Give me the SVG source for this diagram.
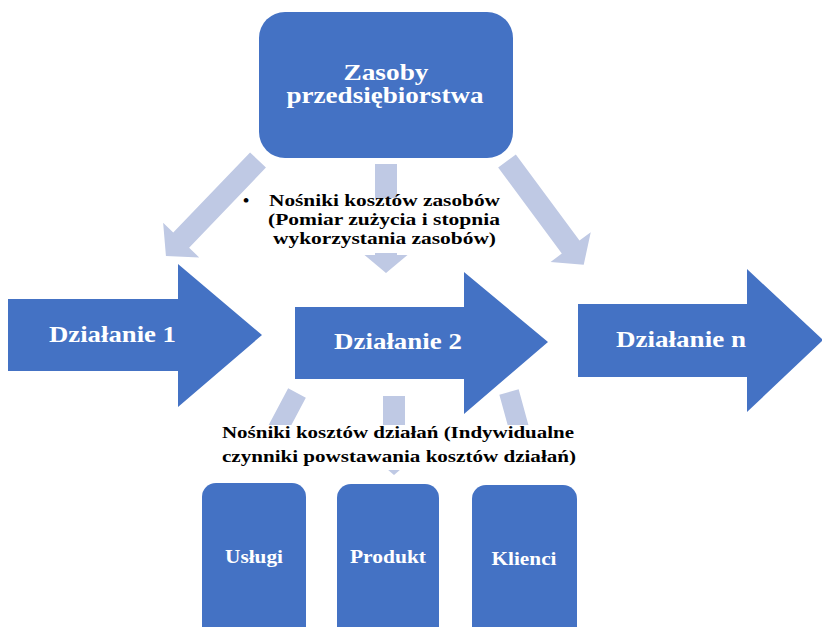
<svg xmlns="http://www.w3.org/2000/svg" width="822" height="627" viewBox="0 0 822 627">
<style>
.dark{fill:#4472C4}
.light{fill:#BFC9E4}
.wt{fill:#FFFFFF;font-family:"Liberation Serif","Times New Roman",serif;font-weight:bold}
.bt{fill:#000000;font-family:"Liberation Serif","Times New Roman",serif;font-weight:bold;font-size:17.5px}
</style>
<rect width="822" height="627" fill="#FFFFFF"/>
<g id="connectors">
  <path class="light" transform="translate(258,160) rotate(133.8)" d="M0,-11 L111,-11 L111,-25 L133,0 L111,25 L111,11 L0,11 Z"/>
  <path class="light" transform="translate(386,164) rotate(90)" d="M0,-11 L91,-11 L91,-21.5 L109,0 L91,21.5 L91,11 L0,11 Z"/>
  <path class="light" transform="translate(507,161) rotate(53.5)" d="M0,-11 L107,-11 L107,-25 L129,0 L107,25 L107,11 L0,11 Z"/>
  <path class="light" transform="translate(297,393) rotate(117.9)" d="M0,-10 L62,-10 L62,-22 L82,0 L62,22 L62,10 L0,10 Z"/>
  <path class="light" transform="translate(394,396) rotate(90)" d="M0,-11 L61,-11 L61,-21 L79,0 L61,21 L61,11 L0,11 Z"/>
  <path class="light" transform="translate(509,392) rotate(74.7)" d="M0,-10 L58,-10 L58,-22 L77,0 L58,22 L58,10 L0,10 Z"/>
</g>
<g id="label-zasoby">
  <rect x="240" y="198" width="270" height="55" fill="#FFFFFF"/>
  <text class="bt" x="243" y="206">•</text>
  <text class="bt" x="269" y="206" textLength="231" lengthAdjust="spacingAndGlyphs">Nośniki kosztów zasobów</text>
  <text class="bt" x="268" y="225" textLength="232" lengthAdjust="spacingAndGlyphs">(Pomiar zużycia i stopnia</text>
  <text class="bt" x="273" y="244" textLength="223" lengthAdjust="spacingAndGlyphs">wykorzystania zasobów)</text>
</g>
<g id="label-dzialania">
  <rect x="218" y="425" width="364" height="45" fill="#FFFFFF"/>
  <text class="bt" x="222" y="438" textLength="352" lengthAdjust="spacingAndGlyphs">Nośniki kosztów działań (Indywidualne</text>
  <text class="bt" x="222" y="462" textLength="354" lengthAdjust="spacingAndGlyphs">czynniki powstawania kosztów działań)</text>
</g>
<g id="zasoby">
  <rect class="dark" x="259" y="12" width="254" height="146" rx="26" ry="26"/>
  <text class="wt" x="386" y="80" font-size="23" text-anchor="middle" textLength="85" lengthAdjust="spacingAndGlyphs">Zasoby</text>
  <text class="wt" x="385" y="103" font-size="23" text-anchor="middle" textLength="197" lengthAdjust="spacingAndGlyphs">przedsiębiorstwa</text>
</g>
<g id="dzialanie1">
  <path class="dark" d="M8,299 L178,299 L178,264 L262,335 L178,407 L178,371 L8,371 Z"/>
  <text class="wt" x="49" y="342" font-size="23" textLength="127" lengthAdjust="spacingAndGlyphs">Działanie 1</text>
</g>
<g id="dzialanie2">
  <path class="dark" d="M295,307 L464,307 L464,272 L548,342 L464,414 L464,379 L295,379 Z"/>
  <text class="wt" x="334" y="349" font-size="23" textLength="128" lengthAdjust="spacingAndGlyphs">Działanie 2</text>
</g>
<g id="dzialanien">
  <path class="dark" d="M578,304 L747,304 L747,269 L823,340 L747,412 L747,377 L578,377 Z"/>
  <text class="wt" x="616" y="347" font-size="23" textLength="130" lengthAdjust="spacingAndGlyphs">Działanie n</text>
</g>
<g id="uslugi">
  <rect class="dark" x="202" y="483" width="104" height="160" rx="14" ry="14"/>
  <text class="wt" x="254" y="563" font-size="19" text-anchor="middle" textLength="58" lengthAdjust="spacingAndGlyphs">Usługi</text>
</g>
<g id="produkt">
  <rect class="dark" x="337" y="484" width="102" height="160" rx="14" ry="14"/>
  <text class="wt" x="388" y="563" font-size="19" text-anchor="middle" textLength="76" lengthAdjust="spacingAndGlyphs">Produkt</text>
</g>
<g id="klienci">
  <rect class="dark" x="472" y="485" width="105" height="160" rx="14" ry="14"/>
  <text class="wt" x="524" y="565" font-size="19" text-anchor="middle" textLength="65" lengthAdjust="spacingAndGlyphs">Klienci</text>
</g>
</svg>
